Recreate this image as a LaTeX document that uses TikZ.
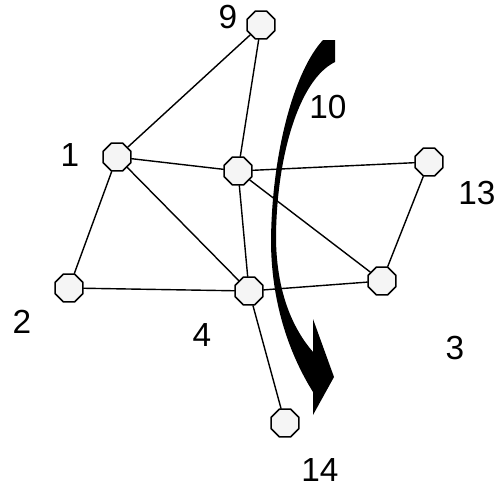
\documentclass[tikz,border=0pt]{standalone}
\usepackage{fontspec}
\setmainfont{Liberation Sans}
\usetikzlibrary{shapes.geometric}
\tikzset{vert/.style={draw, line width=0.9pt, fill=gray!8, regular polygon, regular polygon sides=8, minimum size=0.6cm, inner sep=0pt}}
\begin{document}
\begin{tikzpicture}[x=0.02cm, y=-0.02cm, font=\fontsize{19}{22}\selectfont, line join=round, line cap=round]
	\useasboundingbox (0,0) rectangle (498,488);
	% vertices
	\node[vert] (n9) at (261,25) {};
	\node[vert] (n1) at (117,157) {};
	\node[vert] (nc) at (238,171) {};
	\node[vert] (n13) at (429,162) {};
	\node[vert] (n2) at (69,288) {};
	\node[vert] (n4) at (249,291) {};
	\node[vert] (n3) at (382,281) {};
	\node[vert] (n14) at (285,423) {};
	% numbers
	\path
	(228,17) node (l9) {9}
	(70,155) node (l1) {1}
	(328,107) node (l10) {10}
	(477,193) node (l13) {13}
	(22,322) node (l2) {2}
	(202,335) node (l4) {4}
	(455,348) node (l3) {3}
	(320,470) node (l14) {14};
	% edges
	\draw[line width=0.8pt] (n9)--(n1) (n9)--(nc) (n1)--(nc) (n1)--(n2) (n1)--(n4) (n2)--(n4)
		(nc)--(n13) (nc)--(n4) (nc)--(n3) (n13)--(n3) (n4)--(n3) (n4)--(n14);
	% rotation arrow
	\fill[black] (323,40) .. controls (295,70) and (272,150) .. (271,240)
		.. controls (271,300) and (288,352) .. (313,392) -- (313,415) -- (334,377) -- (313,319) -- (313,352)
		.. controls (294,330) and (277,295) .. (276,240)
		.. controls (276,160) and (298,80) .. (335,62) -- (335,40) -- cycle;
\end{tikzpicture}
\end{document}
